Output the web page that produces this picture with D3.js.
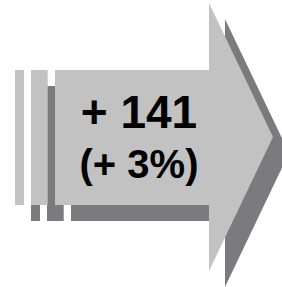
<!DOCTYPE html>
<html>
<head>
<meta charset="utf-8">
<script src="https://cdn.jsdelivr.net/npm/d3@7"></script>
<style>
  html, body { margin: 0; padding: 0; background: #fff; }
  svg { display: block; }
</style>
</head>
<body>
<script>
// values shown on the arrow
var changeValues = [141];
var changePercents = [3];
var labelLines = ["+ " + changeValues[0], "(+ " + changePercents[0] + "%)"];

var width = 282, height = 287;
var light = "#c2c2c2", dark = "#7b7b7f";
var off = 16; // shadow offset

var svg = d3.select("body").append("svg")
    .attr("width", width).attr("height", height);

// arrow pieces: two trailing stripes and the arrow itself
var x = d3.scaleLinear().domain([0, 1]).range([0, 1]);
var stripes = [[15, 24], [31, 47.7]];
var bodyTop = 70, bodyBot = 205, bodyL = 55, headX = 209, headTop = 3, headBot = 271, tipX = 273;
var mid = (headTop + headBot) / 2;

var arrowPts = [
  [bodyL, bodyTop], [headX, bodyTop], [headX, headTop], [tipX, mid],
  [headX, headBot], [headX, bodyBot], [bodyL, bodyBot]
];

var line = d3.line().x(function(d){ return x(d[0]); }).y(function(d){ return d[1]; });

function drawShape(g, pts) {
  g.append("path").attr("d", line(pts) + "Z")
    .attr("fill", dark).attr("transform", "translate(" + off + "," + off + ")");
  g.append("path").attr("d", line(pts) + "Z").attr("fill", light);
}

var g = svg.append("g");
stripes.forEach(function(s){
  drawShape(g, [[s[0], bodyTop], [s[1], bodyTop], [s[1], bodyBot], [s[0], bodyBot]]);
});
drawShape(g, arrowPts);

var sizes = [46, 40], baselines = [128, 178];
svg.selectAll("text.lbl").data(labelLines).enter().append("text")
    .attr("class", "lbl")
    .attr("x", 139)
    .attr("y", function(d, i){ return baselines[i]; })
    .attr("text-anchor", "middle")
    .attr("font-family", "Liberation Sans, Arial, sans-serif")
    .attr("font-weight", "bold")
    .attr("font-size", function(d, i){ return sizes[i]; })
    .attr("fill", "#000")
    .text(function(d){ return d; });
</script>
</body>
</html>
